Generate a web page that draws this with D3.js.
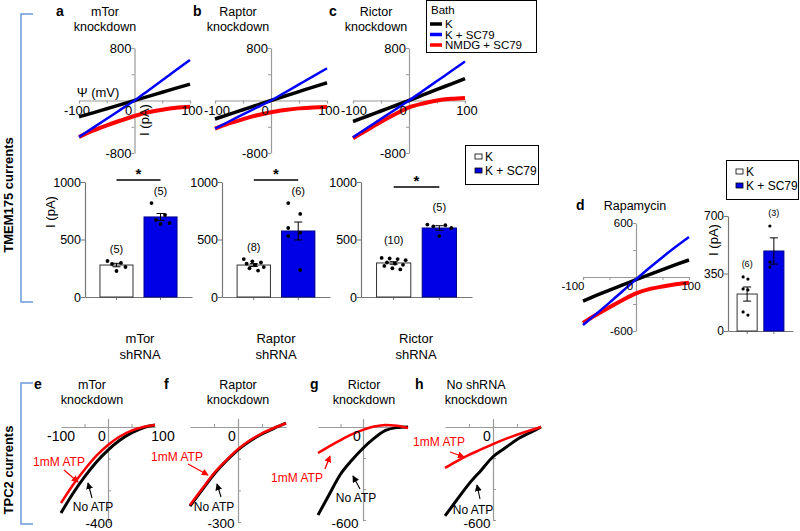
<!DOCTYPE html>
<html><head><meta charset="utf-8">
<script src="https://cdn.jsdelivr.net/npm/d3@7"></script>
<style>
body{margin:0;background:#fff;}
text{font-family:Arial,"Liberation Sans",sans-serif;}
</style></head>
<body>
<svg id="fig" width="800" height="531"></svg>
<script>
// ---------------- DATA ----------------
const voltages = [-100,-75,-50,-25,0,25,50,75,100];
// TMEM175 I-V curves (pA)
const ivA_K     = [-250,-188,-125,-62,0,62,125,188,250];
const ivA_KSC   = [-556,-417,-278,-139,0,154,308,463,617];
const ivA_NMDG  = [-556,-460,-380,-305,-236,-180,-140,-110,-94];
const ivB_K     = [-282,-212,-141,-70,0,68,136,204,271];
const ivB_KSC   = [-427,-320,-213,-106,0,122,245,368,490];
const ivB_NMDG  = [-427,-350,-285,-225,-178,-145,-120,-105,-100];
const ivC_K     = [-320,-240,-160,-80,0,84,168,251,335];
const ivC_KSC   = [-560,-420,-280,-140,0,148,297,445,594];
const ivC_NMDG  = [-575,-450,-324,-209,-104,-45,0,25,38];
const ivD_K     = [-267,-205,-145,-88,-30,27,83,137,189];
const ivD_KSC   = [-533,-410,-285,-155,-26,100,220,335,444];
const ivD_NMDG  = [-511,-420,-335,-255,-181,-135,-105,-80,-63];
// TPC2 I-V curves (pA)
const ivE_noATP = [-362,-281,-210,-148,-97,-56,-25,-3,8];
const ivE_ATP   = [-320,-245,-180,-122,-76,-40,-15,0,8];
const ivF_noATP = [-250,-199,-149,-108,-72,-44,-22,-4,12];
const ivF_ATP   = [-246,-196,-146,-106,-70,-42,-20,-3,12];
const ivG_noATP = [-568,-435,-305,-215,-137,-72,-22,-4,0];
const ivG_ATP   = [-168,-125,-85,-48,-19,3,13,8,-6];
const ivH_noATP = [-574,-469,-367,-280,-192,-136,-80,-40,0];
const ivH_ATP   = [-264,-220,-180,-145,-110,-78,-50,-24,0];
// Bar charts
const barCats = ["K","K + SC79"];
const barA_mean = [278,696], barA_sem = [15,30];
const barA_dotsK = [313,296,287,261,226], barA_dotsS = [817,713,670,643,635];
const barB_mean = [278,574], barB_sem = [12,78];
const barB_dotsK = [330,310,300,290,280,260,250,230], barB_dotsS = [817,722,600,560,530,235];
const barC_mean = [296,600], barC_sem = [11,20];
const barC_dotsK = [340,335,330,320,300,290,280,270,250,240], barC_dotsS = [630,625,615,600,530];
const barD_mean = [225,487], barD_sem = [43,80];
const barD_dotsK = [329,316,256,250,116,97], barD_dotsS = [639,420,389];
const ticksIV800 = [-800,800], ticksIV600=[-600,600], ticksBar1000=[0,500,1000], ticksBar700=[0,350,700];
const legendBath = ["K","K + SC79","NMDG + SC79"];

// ---------------- DRAW ----------------
const svg = d3.select("#fig");
const COL = {K:"#000000", S:"#0000ff", N:"#ff0000", bar:"#0000e6", axis:"#9a9a9a"};
const defs = svg.append("defs");
[["arrR","#ff0000"],["arrK","#000000"]].forEach(([id,c])=>{
  defs.append("marker").attr("id",id).attr("viewBox","0 0 8 8").attr("refX",7).attr("refY",4)
    .attr("markerWidth",7).attr("markerHeight",7).attr("markerUnits","userSpaceOnUse").attr("orient","auto")
    .append("path").attr("d","M0,0 L8,4 L0,8 z").attr("fill",c);
});
function txt(x,y,s,o={}){
  const t=svg.append("text").attr("x",x).attr("y",y).text(s)
    .attr("font-size",o.size||13).attr("text-anchor",o.anchor||"middle").attr("fill",o.fill||"#000");
  if(o.bold) t.attr("font-weight","bold");
  if(o.rot) t.attr("transform",`rotate(${o.rot},${x},${y})`);
  return t;
}

// top IV panel
function ivTop(p){
  const x=d3.scaleLinear().domain([-100,100]).range([p.x0,p.x1]);
  const y=d3.scaleLinear().domain([-p.ymax,p.ymax]).range([p.yb,p.yt]);
  const g=svg.append("g");
  const ax=x(0), ay=y(0);
  g.append("g").attr("transform",`translate(0,${ay})`)
    .call(d3.axisBottom(x).tickValues([-50,50]).tickSize(3).tickFormat(""))
    .call(a=>{a.select(".domain").attr("stroke",COL.axis).attr("stroke-width",1.2);a.selectAll("line").attr("stroke",COL.axis);});
  g.append("g").attr("transform",`translate(${ax},0)`)
    .call(d3.axisLeft(y).tickValues([-p.ymax,-p.ymax/2,p.ymax/2,p.ymax]).tickSize(3).tickFormat("").tickSizeOuter(0))
    .call(a=>{a.select(".domain").attr("stroke",COL.axis).attr("stroke-width",1.2);a.selectAll("line").attr("stroke",COL.axis);});
  const line=d3.line().x((d,i)=>x(voltages[i])).y(d=>y(d)).curve(d3.curveMonotoneX);
  p.series.forEach(s=>g.append("path").attr("d",line(s.v)).attr("fill","none").attr("stroke",s.c).attr("stroke-width",s.w).attr("stroke-linecap","butt"));
  const fs=p.fs;
  p.yticks.forEach(v=>txt(ax-3,y(v)+fs*0.36,String(v),{anchor:"end",size:fs}));
  txt(x(-100)+p.lx,ay+fs+1,"-100",{size:fs});
  txt(ax-6,ay+fs+1,"0",{size:fs});
  txt(x(100)+2,ay+fs+1,"100",{size:fs});
  return {x,y};
}
ivTop({x0:79,x1:190,yt:48,yb:153,ymax:800,fs:13,lx:-2,yticks:ticksIV800,
  series:[{v:ivA_K,c:COL.K,w:3.5},{v:ivA_NMDG,c:COL.N,w:4},{v:ivA_KSC,c:COL.S,w:2.5}]});
ivTop({x0:215,x1:327,yt:48,yb:153,ymax:800,fs:13,lx:2,yticks:ticksIV800,
  series:[{v:ivB_K,c:COL.K,w:3.5},{v:ivB_NMDG,c:COL.N,w:4},{v:ivB_KSC,c:COL.S,w:2.5}]});
ivTop({x0:353,x1:465,yt:48,yb:153,ymax:800,fs:13,lx:1,yticks:ticksIV800,
  series:[{v:ivC_K,c:COL.K,w:3.5},{v:ivC_NMDG,c:COL.N,w:4},{v:ivC_KSC,c:COL.S,w:2.5}]});
ivTop({x0:583,x1:689,yt:223,yb:331,ymax:600,fs:11.5,lx:-10,yticks:ticksIV600,
  series:[{v:ivD_K,c:COL.K,w:3.5},{v:ivD_NMDG,c:COL.N,w:4},{v:ivD_KSC,c:COL.S,w:2.5}]});
txt(98,97,"Ψ (mV)",{size:13});
txt(149,120,"I (pA)",{size:13,rot:-90});

// titles
function title(lx,cx,y,letter,l1,l2){
  txt(lx,y,letter,{bold:true,size:14,anchor:"start"});
  txt(cx,y,l1,{size:12.5});
  if(l2) txt(cx,y+15,l2,{size:12.5});
}
title(56,105,16,"a","mTor","knockdown");
title(193,238,16,"b","Raptor","knockdown");
title(329,376,16,"c","Rictor","knockdown");
title(576,635,210,"d","Rapamycin",null);

// Bath legend
svg.append("rect").attr("x",426.5).attr("y",0.5).attr("width",110).attr("height",52).attr("fill","#fff").attr("stroke","#000");
txt(431,14,"Bath",{anchor:"start",size:11.5});
legendBath.forEach((l,i)=>{
  const yy=24+i*10.5;
  svg.append("line").attr("x1",430).attr("x2",442).attr("y1",yy).attr("y2",yy).attr("stroke",[COL.K,COL.S,COL.N][i]).attr("stroke-width",3.5);
  txt(445,yy+4,l,{anchor:"start",size:11.5});
});

// bar charts
function bars(p){
  const x=d3.scaleBand().domain(barCats).range([p.x0,p.x1]).paddingInner(0.25).paddingOuter(0.34);
  const y=d3.scaleLinear().domain([0,p.ymax]).range([p.yb,p.yt]);
  const g=svg.append("g");
  g.append("g").attr("transform",`translate(${p.x0},0)`)
    .call(d3.axisLeft(y).tickValues(p.ticks).tickSize(4).tickSizeOuter(0).tickFormat(""))
    .call(a=>{a.select(".domain").attr("stroke","#777").attr("stroke-width",1.2);a.selectAll("line").attr("stroke","#777");});
  g.append("g").attr("transform",`translate(0,${p.yb})`)
    .call(d3.axisBottom(x).tickSize(3).tickSizeOuter(0).tickFormat(""))
    .call(a=>{a.select(".domain").attr("stroke","#777").attr("stroke-width",1.2);a.selectAll("line").attr("stroke","#777");});
  p.ticks.forEach(v=>txt(p.x0-4,y(v)+p.fs*0.36,String(v),{anchor:"end",size:p.fs}));
  const dots=[p.dotsK,p.dotsS];
  barCats.forEach((c,i)=>{
    g.append("rect").attr("x",x(c)).attr("y",y(p.mean[i])).attr("width",x.bandwidth()).attr("height",p.yb-y(p.mean[i]))
      .attr("fill",i?COL.bar:"#fff").attr("stroke",i?"#00008a":"#333").attr("stroke-width",1);
    const cx=x(c)+x.bandwidth()/2;
    const e0=y(p.mean[i]-p.sem[i]), e1=y(p.mean[i]+p.sem[i]);
    g.append("line").attr("x1",cx).attr("x2",cx).attr("y1",e0).attr("y2",e1).attr("stroke","#000").attr("stroke-width",1);
    [e0,e1].forEach(e=>g.append("line").attr("x1",cx-4).attr("x2",cx+4).attr("y1",e).attr("y2",e).attr("stroke","#000").attr("stroke-width",1));
    const n=dots[i].length;
    dots[i].forEach((v,j)=>{
      const off = n>1 ? ((j*3)%n - (n-1)/2)*(p.spread/Math.max(n-1,1)) : 0;
      g.append("circle").attr("cx",cx+off).attr("cy",y(v)).attr("r",p.r).attr("fill","#000");
    });
    const top=Math.max(d3.max(dots[i]),p.mean[i]+p.sem[i]);
    txt(cx,y(top)-p.nOff,`(${n})`,{size:p.nfs});
  });
  if(p.sig!==undefined){
    const a=x(barCats[0])+x.bandwidth()/2, b=x(barCats[1])+x.bandwidth()/2;
    g.append("line").attr("x1",a).attr("x2",b).attr("y1",y(p.sig)).attr("y2",y(p.sig)).attr("stroke","#000").attr("stroke-width",1.5);
    txt((a+b)/2,y(p.sig)-1,"*",{size:15,bold:true});
  }
  return {x,y};
}
bars({x0:85,x1:192,yt:182,yb:297,ymax:1000,ticks:ticksBar1000,fs:12.5,mean:barA_mean,sem:barA_sem,dotsK:barA_dotsK,dotsS:barA_dotsS,sig:1017,spread:18,r:1.9,nfs:11,nOff:8});
bars({x0:222,x1:330,yt:182,yb:297,ymax:1000,ticks:ticksBar1000,fs:12.5,mean:barB_mean,sem:barB_sem,dotsK:barB_dotsK,dotsS:barB_dotsS,sig:1017,spread:20,r:1.9,nfs:11,nOff:8});
bars({x0:361,x1:472,yt:182,yb:297,ymax:1000,ticks:ticksBar1000,fs:12.5,mean:barC_mean,sem:barC_sem,dotsK:barC_dotsK,dotsS:barC_dotsS,sig:957,spread:24,r:1.9,nfs:11,nOff:14});
bars({x0:728,x1:793,yt:216,yb:331,ymax:700,ticks:ticksBar700,fs:12,mean:barD_mean,sem:barD_sem,dotsK:barD_dotsK,dotsS:barD_dotsS,spread:8,r:1.6,nfs:9,nOff:10});
txt(55,212,"I (pA)",{size:13,rot:-90});
txt(718,240,"I (pA)",{size:13,rot:-90});
[["mTor",140],["Raptor",276],["Rictor",416]].forEach(([s,cx])=>{txt(cx,343,s,{size:13});txt(cx,359,"shRNA",{size:13});});

// bar legends
function barLegend(x,y,w,h,fs){
  svg.append("rect").attr("x",x+0.5).attr("y",y+0.5).attr("width",w).attr("height",h).attr("fill","#fff").attr("stroke","#000");
  barCats.forEach((c,i)=>{
    const yy=y+12+i*14;
    svg.append("rect").attr("x",x+10).attr("y",yy-3).attr("width",7).attr("height",5).attr("fill",i?COL.bar:"#fff").attr("stroke","#000").attr("stroke-width",0.8);
    txt(x+20,yy+4,c,{anchor:"start",size:fs});
  });
}
barLegend(465,145,73,39,12);
barLegend(726,160,72,39,12);

// TPC2 panels
function ivBot(p){
  const x=d3.scaleLinear().domain([-100,100]).range([p.x0,p.x1]);
  const y=d3.scaleLinear().domain([p.ymin,0]).range([p.yb,427]);
  const g=svg.append("g");
  const ax=x(0);
  g.append("g").attr("transform",`translate(0,427)`)
    .call(d3.axisTop(x).tickValues([-50,50]).tickSize(3).tickFormat("").tickSizeOuter(0))
    .call(a=>{a.select(".domain").attr("stroke",COL.axis).attr("stroke-width",1.2);a.selectAll("line").attr("stroke",COL.axis);});
  const yax=d3.scaleLinear().domain([p.ymin,p.ymin*-0.09]).range([p.yb,427-p.ymin*-0.09*(p.yb-427)/(-p.ymin)]);
  g.append("g").attr("transform",`translate(${ax},0)`)
    .call(d3.axisRight(yax).tickValues([p.ymin,p.ymin*2/3,p.ymin/3]).tickSize(3).tickFormat("").tickSizeOuter(0))
    .call(a=>{a.select(".domain").attr("stroke",COL.axis).attr("stroke-width",1.2);a.selectAll("line").attr("stroke",COL.axis);});
  const line=d3.line().x((d,i)=>x(voltages[i])).y(d=>y(d)).curve(d3.curveMonotoneX);
  g.append("path").attr("d",line(p.noATP)).attr("fill","none").attr("stroke","#000").attr("stroke-width",3);
  g.append("path").attr("d",line(p.atp)).attr("fill","none").attr("stroke","#ff0000").attr("stroke-width",2.5);
  txt(ax-6,441,"0",{size:14});
  if(p.xl){txt(x(-100),441,"-100",{size:14});txt(x(100)+8,441,"100",{size:14});}
  txt(ax+p.ylx,528,String(p.ymin),{size:13.5});
  txt(p.aT[0],p.aT[1],"1mM ATP",{size:12,fill:"#ff0000"});
  svg.append("line").attr("x1",p.aA[0]).attr("y1",p.aA[1]).attr("x2",p.aA[2]).attr("y2",p.aA[3]).attr("stroke","#ff0000").attr("stroke-width",1.3).attr("marker-end","url(#arrR)");
  txt(p.nT[0],p.nT[1],"No ATP",{size:12});
  svg.append("line").attr("x1",p.nA[0]).attr("y1",p.nA[1]).attr("x2",p.nA[2]).attr("y2",p.nA[3]).attr("stroke","#000").attr("stroke-width",1.1).attr("marker-end","url(#arrK)");
}
ivBot({x0:61,x1:155,ymin:-400,yb:522,noATP:ivE_noATP,atp:ivE_ATP,xl:true,ylx:-9,
  aT:[59,466],aA:[64,470,78,482],nT:[93,511],nA:[92,498,88,483]});
ivBot({x0:190,x1:286,ymin:-300,yb:522,noATP:ivF_noATP,atp:ivF_ATP,ylx:-17,
  aT:[177,461],aA:[188,464,208,475],nT:[214,511],nA:[221,497,217,484]});
ivBot({x0:318,x1:408,ymin:-600,yb:520,noATP:ivG_noATP,atp:ivG_ATP,ylx:-18,
  aT:[297,482],aA:[325,469,330,456],nT:[356,502],nA:[360,489,353,476]});
ivBot({x0:445,x1:541,ymin:-600,yb:520,noATP:ivH_noATP,atp:ivH_ATP,ylx:-16,
  aT:[439,446],aA:[450,452,464,457],nT:[473,514],nA:[480,499,477,485]});
title(34,92,389,"e","mTor","knockdown");
title(164,238,389,"f","Raptor","knockdown");
title(310,364,389,"g","Rictor","knockdown");
title(415,476,389,"h","No shRNA","knockdown");

// side labels & brackets
svg.append("path").attr("d","M33,14 H21 V302 H33").attr("fill","none").attr("stroke","#6b9bd8").attr("stroke-width",1.5);
svg.append("path").attr("d","M33,383 H21 V524 H33").attr("fill","none").attr("stroke","#6b9bd8").attr("stroke-width",1.5);
txt(13,195,"TMEM175 currents",{size:13,bold:true,rot:-90});
txt(13,470,"TPC2 currents",{size:13,bold:true,rot:-90});
</script>
</body></html>
